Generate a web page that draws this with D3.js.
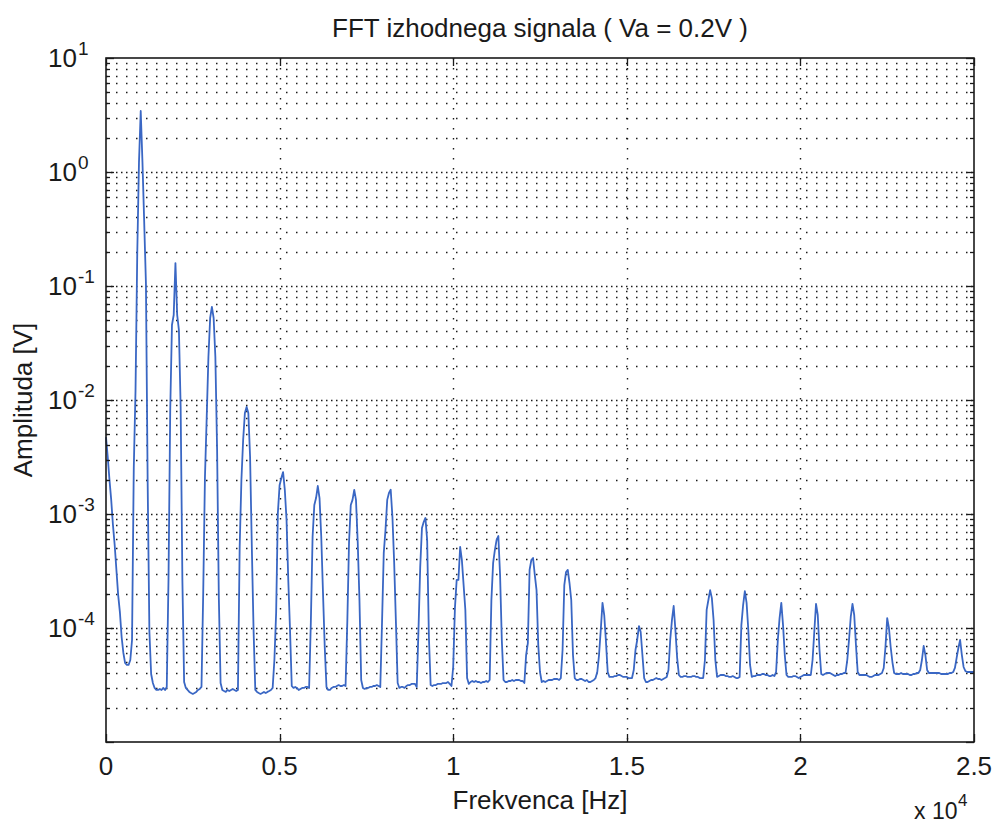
<!DOCTYPE html>
<html>
<head>
<meta charset="utf-8">
<script src="https://cdn.jsdelivr.net/npm/d3@7/dist/d3.min.js"></script>
<style>
  body { margin: 0; background: #fff; }
  text { font-family: "Liberation Sans", Arial, sans-serif; fill: #1a1a1a; }
</style>
</head>
<body>
<svg id="chart" width="994" height="826"></svg>
<script>
// ── Data ─────────────────────────────────────────────────────────────────────
const titleText   = 'FFT izhodnega signala ( Va = 0.2V )';
const xLabelText  = 'Frekvenca [Hz]';
const yLabelText  = 'Amplituda [V]';
const xTicks      = [0, 5000, 10000, 15000, 20000, 25000];
const xTickLabels = ['0', '0.5', '1', '1.5', '2', '2.5'];
const yDecades    = [-5, -4, -3, -2, -1, 0, 1];   // exponents of the major lines
const yLabelled   = [-4, -3, -2, -1, 0, 1];       // exponents that carry a label
const binHz       = 50;                            // FFT bin spacing

// FFT amplitude [V], one value per 50 Hz bin (0 … 25 kHz)
const amp = [
  4.73e-3, 3.16e-3, 1.99e-3, 1.33e-3, 8.02e-4, 5.35e-4, 3.23e-4, 1.95e-4, 1.38e-4, 8.34e-5,
  6.04e-5, 4.93e-5, 4.74e-5, 4.74e-5, 5.24e-5, 7.85e-5, 2.54e-3, 1.20e-2, 0.191, 1.22,
  3.43, 1.22, 0.364, 0.106, 1.87e-3, 9.23e-5, 3.95e-5, 3.29e-5, 2.98e-5, 2.86e-5,
  2.86e-5, 2.92e-5, 2.86e-5, 2.98e-5, 2.86e-5, 3.04e-5, 2.64e-4, 8.17e-3, 4.55e-2, 5.57e-2,
  0.159, 5.57e-2, 4.11e-2, 8.69e-3, 2.64e-4, 3.36e-5, 2.98e-5, 2.86e-5, 2.75e-5, 2.69e-5,
  2.64e-5, 2.69e-5, 2.75e-5, 2.86e-5, 2.92e-5, 3.04e-5, 2.03e-4, 2.11e-3, 6.95e-3, 2.38e-2,
  5.24e-2, 6.55e-2, 5.24e-2, 2.38e-2, 3.64e-3, 1.83e-4, 3.29e-5, 2.86e-5, 2.80e-5, 2.75e-5,
  2.86e-5, 2.80e-5, 2.86e-5, 2.92e-5, 2.86e-5, 2.80e-5, 2.86e-5, 5.14e-4, 1.99e-3, 4.46e-3,
  7.69e-3, 8.69e-3, 7.69e-3, 3.16e-3, 5.14e-4, 9.60e-5, 2.86e-5, 2.75e-5, 2.69e-5, 2.64e-5,
  2.69e-5, 2.75e-5, 2.69e-5, 2.75e-5, 2.80e-5, 2.86e-5, 2.98e-5, 5.24e-5, 1.35e-4, 1.02e-3,
  1.79e-3, 2.07e-3, 2.33e-3, 1.63e-3, 8.85e-4, 2.64e-4, 9.60e-5, 3.10e-5, 2.98e-5, 3.04e-5,
  2.98e-5, 2.86e-5, 2.92e-5, 2.98e-5, 2.98e-5, 3.04e-5, 3.04e-5, 2.98e-5, 1.13e-4, 6.28e-4,
  1.20e-3, 1.38e-3, 1.76e-3, 1.38e-3, 6.28e-4, 2.03e-4, 6.81e-5, 3.04e-5, 2.86e-5, 2.86e-5,
  2.98e-5, 3.04e-5, 3.04e-5, 3.10e-5, 3.16e-5, 3.10e-5, 3.10e-5, 3.16e-5, 3.10e-5, 1.13e-4,
  5.68e-4, 1.20e-3, 1.33e-3, 1.63e-3, 1.33e-3, 5.68e-4, 1.76e-4, 3.50e-5, 2.98e-5, 2.92e-5,
  2.98e-5, 2.98e-5, 3.04e-5, 3.04e-5, 3.10e-5, 3.10e-5, 3.16e-5, 3.10e-5, 3.04e-5, 1.11e-4,
  4.55e-4, 7.25e-4, 1.33e-3, 1.53e-3, 1.63e-3, 9.42e-4, 3.72e-4, 1.13e-4, 3.29e-5, 2.98e-5,
  3.04e-5, 3.04e-5, 2.98e-5, 3.10e-5, 3.16e-5, 3.16e-5, 3.23e-5, 3.23e-5, 3.23e-5, 3.04e-5,
  9.60e-5, 3.43e-4, 7.53e-4, 8.51e-4, 9.23e-4, 5.92e-4, 8.34e-5, 3.16e-5, 3.10e-5, 3.16e-5,
  3.16e-5, 3.23e-5, 3.23e-5, 3.23e-5, 3.29e-5, 3.29e-5, 3.29e-5, 3.36e-5, 3.23e-5, 3.10e-5,
  4.55e-5, 1.50e-4, 2.64e-4, 2.64e-4, 5.14e-4, 3.94e-4, 2.38e-4, 1.44e-4, 3.64e-5, 3.23e-5,
  3.36e-5, 3.43e-5, 3.36e-5, 3.43e-5, 3.36e-5, 3.36e-5, 3.29e-5, 3.36e-5, 3.36e-5, 3.43e-5,
  3.36e-5, 3.50e-5, 1.76e-4, 3.72e-4, 4.83e-4, 5.92e-4, 6.41e-4, 2.92e-4, 7.85e-5, 3.50e-5,
  3.36e-5, 3.36e-5, 3.43e-5, 3.43e-5, 3.50e-5, 3.43e-5, 3.50e-5, 3.50e-5, 3.50e-5, 3.43e-5,
  3.43e-5, 3.29e-5, 5.79e-5, 7.38e-5, 3.23e-4, 3.94e-4, 4.11e-4, 2.92e-4, 2.15e-4, 7.09e-5,
  4.11e-5, 3.36e-5, 3.43e-5, 3.36e-5, 3.43e-5, 3.50e-5, 3.50e-5, 3.50e-5, 3.57e-5, 3.57e-5,
  3.57e-5, 3.50e-5, 3.64e-5, 6.41e-5, 2.38e-4, 3.10e-4, 3.23e-4, 2.48e-4, 1.76e-4, 5.79e-5,
  3.64e-5, 3.50e-5, 3.50e-5, 3.57e-5, 3.57e-5, 3.50e-5, 3.43e-5, 3.50e-5, 3.36e-5, 3.36e-5,
  3.43e-5, 3.50e-5, 3.64e-5, 4.11e-5, 5.79e-5, 9.60e-5, 1.66e-4, 1.30e-4, 7.54e-5, 4.11e-5,
  3.72e-5, 3.72e-5, 3.72e-5, 3.79e-5, 3.79e-5, 3.87e-5, 3.87e-5, 3.79e-5, 3.72e-5, 3.72e-5,
  3.72e-5, 3.64e-5, 3.64e-5, 3.64e-5, 4.28e-5, 6.41e-5, 7.85e-5, 1.04e-4, 9.23e-5, 5.79e-5,
  3.64e-5, 3.36e-5, 3.36e-5, 3.43e-5, 3.50e-5, 3.50e-5, 3.57e-5, 3.64e-5, 3.57e-5, 3.57e-5,
  3.50e-5, 3.57e-5, 3.64e-5, 3.72e-5, 4.28e-5, 7.85e-5, 1.17e-4, 1.56e-4, 9.60e-5, 5.46e-5,
  3.87e-5, 3.72e-5, 3.72e-5, 3.79e-5, 3.79e-5, 3.72e-5, 3.72e-5, 3.72e-5, 3.79e-5, 3.79e-5,
  3.72e-5, 3.72e-5, 3.64e-5, 3.64e-5, 3.64e-5, 5.24e-5, 1.44e-4, 1.76e-4, 2.15e-4, 1.83e-4,
  1.17e-4, 5.24e-5, 3.72e-5, 3.79e-5, 3.87e-5, 3.87e-5, 3.87e-5, 3.79e-5, 3.79e-5, 3.72e-5,
  3.72e-5, 3.79e-5, 3.72e-5, 3.64e-5, 3.64e-5, 3.72e-5, 1.06e-4, 1.59e-4, 2.11e-4, 1.66e-4,
  9.60e-5, 4.74e-5, 3.72e-5, 3.79e-5, 3.79e-5, 3.87e-5, 3.87e-5, 3.87e-5, 3.95e-5, 3.95e-5,
  3.87e-5, 3.87e-5, 3.79e-5, 3.79e-5, 3.87e-5, 3.79e-5, 4.11e-5, 7.85e-5, 1.22e-4, 1.66e-4,
  1.06e-4, 5.79e-5, 3.87e-5, 3.72e-5, 3.72e-5, 3.72e-5, 3.79e-5, 3.79e-5, 3.72e-5, 3.64e-5,
  3.72e-5, 3.79e-5, 3.87e-5, 3.87e-5, 3.87e-5, 3.87e-5, 3.87e-5, 5.24e-5, 9.23e-5, 1.63e-4,
  1.30e-4, 6.41e-5, 3.95e-5, 3.87e-5, 3.95e-5, 4.03e-5, 4.03e-5, 4.03e-5, 3.95e-5, 3.87e-5,
  3.79e-5, 3.87e-5, 3.87e-5, 3.95e-5, 3.95e-5, 4.03e-5, 4.03e-5, 5.24e-5, 7.85e-5, 1.25e-4,
  1.63e-4, 1.30e-4, 7.09e-5, 4.11e-5, 3.87e-5, 3.87e-5, 3.87e-5, 3.87e-5, 3.87e-5, 3.79e-5,
  3.72e-5, 3.72e-5, 3.79e-5, 3.87e-5, 3.87e-5, 3.87e-5, 3.95e-5, 4.03e-5, 4.46e-5, 6.81e-5,
  1.22e-4, 1.00e-4, 6.81e-5, 5.03e-5, 4.03e-5, 3.95e-5, 3.95e-5, 3.95e-5, 4.03e-5, 3.95e-5,
  3.95e-5, 3.95e-5, 3.95e-5, 3.87e-5, 3.87e-5, 3.95e-5, 3.95e-5, 4.03e-5, 4.03e-5, 4.28e-5,
  5.24e-5, 6.95e-5, 5.79e-5, 4.28e-5, 4.03e-5, 4.03e-5, 4.03e-5, 4.03e-5, 4.03e-5, 4.03e-5,
  4.03e-5, 3.95e-5, 3.95e-5, 3.95e-5, 3.95e-5, 3.95e-5, 4.03e-5, 4.03e-5, 4.11e-5, 4.46e-5,
  5.46e-5, 6.68e-5, 7.85e-5, 5.79e-5, 4.55e-5, 4.20e-5, 4.11e-5, 4.11e-5, 4.11e-5, 4.11e-5,
  4.11e-5
];

// ── Layout ───────────────────────────────────────────────────────────────────
const M = { left: 106, right: 974, top: 58, bottom: 742 };
const INK  = '#1a1a1a';
const BLUE = '#3a67c4';
const FS   = 26;

const svg = d3.select('#chart');

const x = d3.scaleLinear().domain([0, 25000]).range([M.left, M.right]);
const y = d3.scaleLog().domain([1e-5, 10]).range([M.bottom, M.top]);

// snap to pixel centres so 1px lines and dots stay crisp
const px = v => Math.round(v) + 0.5;

// ── Grid ─────────────────────────────────────────────────────────────────────
const grid = svg.append('g').attr('class', 'grid');

// minor horizontal lines (2…9 × each decade)
const minorVals = [];
yDecades.slice(0, -1).forEach(e => {
  for (let m = 2; m <= 9; m++) minorVals.push(m * Math.pow(10, e));
});

grid.selectAll('line.minor').data(minorVals).join('line')
  .attr('class', 'minor')
  .attr('x1', M.left).attr('x2', M.right)
  .attr('y1', d => px(y(d))).attr('y2', d => px(y(d)))
  .attr('stroke', INK).attr('stroke-width', 1.4)
  .attr('stroke-dasharray', '1.5,8.5');

// decade lines, denser dotting
grid.selectAll('line.major').data(yDecades.slice(1, -1)).join('line')
  .attr('class', 'major')
  .attr('x1', M.left).attr('x2', M.right)
  .attr('y1', d => px(y(Math.pow(10, d)))).attr('y2', d => px(y(Math.pow(10, d))))
  .attr('stroke', INK).attr('stroke-width', 1.4)
  .attr('stroke-dasharray', '1.5,3.5');

// vertical lines at inner x ticks
grid.selectAll('line.vx').data(xTicks.slice(1, -1)).join('line')
  .attr('class', 'vx')
  .attr('x1', d => px(x(d))).attr('x2', d => px(x(d)))
  .attr('y1', M.top).attr('y2', M.bottom)
  .attr('stroke', INK).attr('stroke-width', 1.4)
  .attr('stroke-dasharray', '1.5,8.5');

// ── Spectrum line ────────────────────────────────────────────────────────────
const line = d3.line()
  .x((d, i) => x(i * binHz))
  .y(d => y(d));

svg.append('path')
  .datum(amp)
  .attr('d', line)
  .attr('fill', 'none')
  .attr('stroke', BLUE)
  .attr('stroke-width', 1.8)
  .attr('stroke-linejoin', 'round');

// ── Frame and ticks ──────────────────────────────────────────────────────────
const axes = svg.append('g').attr('class', 'axes');

axes.append('rect')
  .attr('x', M.left).attr('y', M.top)
  .attr('width', M.right - M.left).attr('height', M.bottom - M.top)
  .attr('fill', 'none').attr('stroke', INK).attr('stroke-width', 1.6);

const TL = 8, TLm = 4;

// x ticks, inward on bottom and top
xTicks.forEach(t => {
  const xx = px(x(t));
  axes.append('line').attr('x1', xx).attr('x2', xx)
    .attr('y1', M.bottom).attr('y2', M.bottom - TL)
    .attr('stroke', INK).attr('stroke-width', 1.3);
  axes.append('line').attr('x1', xx).attr('x2', xx)
    .attr('y1', M.top).attr('y2', M.top + TL)
    .attr('stroke', INK).attr('stroke-width', 1.3);
});

// y ticks, major and minor on left and right
const yTickSet = yDecades.map(e => ({ v: Math.pow(10, e), len: TL }))
  .concat(minorVals.map(v => ({ v, len: TLm })));

yTickSet.forEach(t => {
  const yy = px(y(t.v));
  axes.append('line').attr('x1', M.left).attr('x2', M.left + t.len)
    .attr('y1', yy).attr('y2', yy)
    .attr('stroke', INK).attr('stroke-width', 1.3);
  axes.append('line').attr('x1', M.right).attr('x2', M.right - t.len)
    .attr('y1', yy).attr('y2', yy)
    .attr('stroke', INK).attr('stroke-width', 1.3);
});

// ── Tick labels ──────────────────────────────────────────────────────────────
const labels = svg.append('g').attr('class', 'labels');

labels.selectAll('text.xt').data(xTicks).join('text')
  .attr('class', 'xt')
  .attr('x', d => x(d)).attr('y', 775)
  .attr('text-anchor', 'middle')
  .attr('font-size', FS)
  .text((d, i) => xTickLabels[i]);

yLabelled.forEach(e => {
  const yy = y(Math.pow(10, e));
  labels.append('text')
    .attr('x', 77).attr('y', yy + 9)
    .attr('text-anchor', 'end')
    .attr('font-size', FS)
    .text('10');
  labels.append('text')
    .attr('x', 78).attr('y', yy - 3)
    .attr('font-size', 19)
    .text(String(e));
});

// x10^4 multiplier below the right end of the x axis
labels.append('text')
  .attr('x', 914).attr('y', 819)
  .attr('font-size', 23)
  .text('x 10');
labels.append('text')
  .attr('x', 958).attr('y', 806)
  .attr('font-size', 17)
  .text('4');

// ── Title and axis labels ────────────────────────────────────────────────────
svg.append('text')
  .attr('x', (M.left + M.right) / 2).attr('y', 37)
  .attr('text-anchor', 'middle')
  .attr('font-size', FS)
  .text(titleText);

svg.append('text')
  .attr('x', (M.left + M.right) / 2).attr('y', 809)
  .attr('text-anchor', 'middle')
  .attr('font-size', FS)
  .text(xLabelText);

svg.append('text')
  .attr('transform', `translate(32,${(M.top + M.bottom) / 2}) rotate(-90)`)
  .attr('text-anchor', 'middle')
  .attr('font-size', FS)
  .text(yLabelText);
</script>
</body>
</html>
